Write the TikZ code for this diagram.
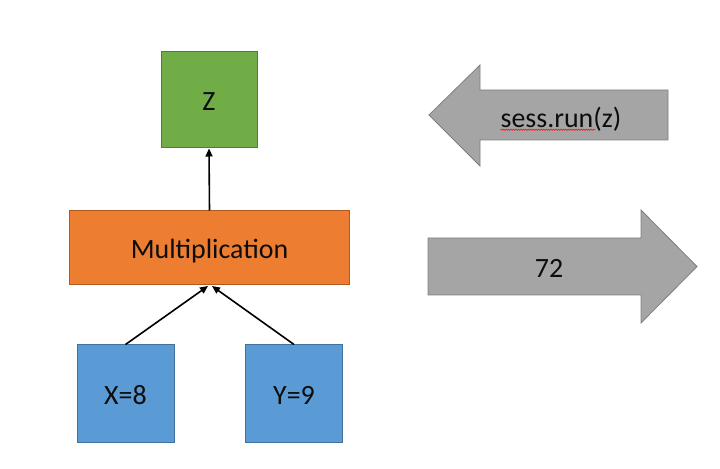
\documentclass[tikz,border=0pt]{standalone}
\usepackage{fontspec}
\setmainfont{Carlito}
\usetikzlibrary{arrows.meta,decorations.pathmorphing}
\definecolor{zgreen}{HTML}{70AD47}
\definecolor{zgreenb}{HTML}{507E32}
\definecolor{morange}{HTML}{ED7D31}
\definecolor{morangeb}{HTML}{AE5A21}
\definecolor{vblue}{HTML}{5B9BD5}
\definecolor{vblueb}{HTML}{41719C}
\definecolor{agray}{HTML}{A5A5A5}
\definecolor{agrayb}{HTML}{7F7F7F}
\definecolor{txt}{HTML}{0D0D0D}
\tikzset{
  lbl/.style={font=\fontsize{28}{33}\selectfont, text=txt, inner sep=0pt, text height=22bp, text depth=0pt},
  opbox/.style={draw, line width=1bp, minimum width=#1, inner sep=0pt, lbl},
  conn/.style={line width=1.6bp, -{Triangle[length=8bp,width=7bp]}},
  bigarrow/.style={fill=agray, draw=agrayb, line width=0.8bp, line join=miter}
}
\begin{document}
\begin{tikzpicture}[x=1bp,y=-1bp]
\useasboundingbox (0,0) rectangle (720,469);
% boxes
\node[opbox=96bp, minimum height=96bp, fill=zgreen, draw=zgreenb] (z) at (209,100) {Z};
\node[opbox=279bp, minimum height=74bp, fill=morange, draw=morangeb] (mul) at (209.5,248) {Multiplication};
\node[opbox=97bp, minimum height=97bp, fill=vblue, draw=vblueb] (x) at (125.5,393.5) {X=8};
\node[opbox=97bp, minimum height=97bp, fill=vblue, draw=vblueb] (y) at (294,393.5) {Y=9};
% connectors
\coordinate (xin) at (208,286);
\coordinate (yin) at (212,286);
\draw[conn] (x.north) -- (xin);
\draw[conn] (y.north) -- (yin);
\draw[conn] (mul.north) -- (z.south);
% left arrow
\draw[bigarrow] (429,115) -- (480,65) -- (480,90) -- (668,90) -- (668,140) -- (480,140) -- (480,166) -- cycle;
\node[lbl] (run) at (561,117) {sess.run(z)};
\draw[red, line width=0.5bp, decorate, decoration={zigzag, segment length=2.5bp, amplitude=0.7bp}] (run.south west) ++(0,1.5) coordinate (sq1) (sq1) -- ++(95,0);
% right arrow
\draw[bigarrow] (428,238) -- (641,238) -- (641,210) -- (697,266.5) -- (641,323) -- (641,295) -- (428,295) -- cycle;
\node[lbl] (res) at (549,266.5) {72};
\end{tikzpicture}
\end{document}
